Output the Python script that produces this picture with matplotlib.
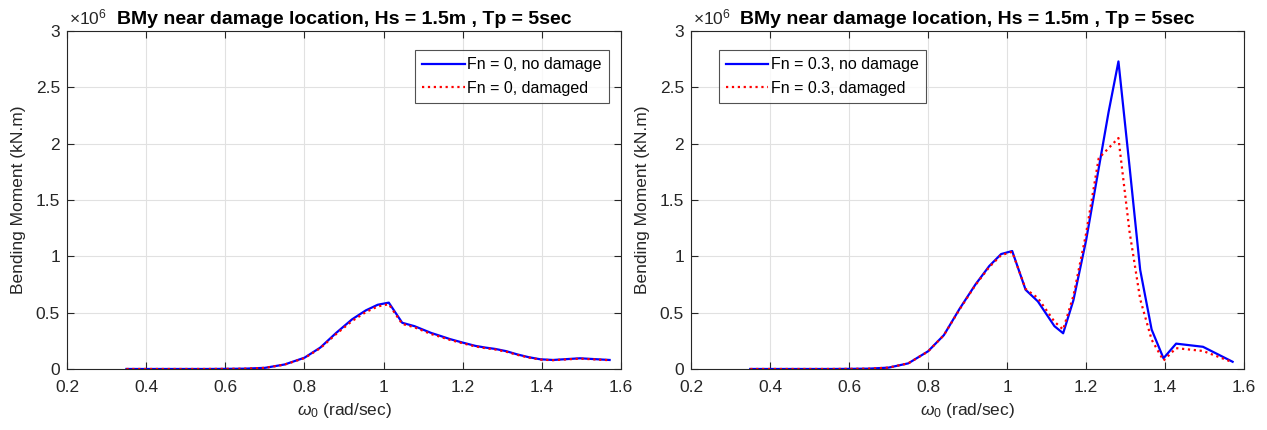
import matplotlib
matplotlib.use("Agg")
import matplotlib.pyplot as plt
from matplotlib.ticker import FuncFormatter

plt.rcParams["font.family"] = ["Liberation Sans", "DejaVu Sans"]
plt.rcParams["mathtext.fontset"] = "custom"
plt.rcParams["mathtext.rm"] = "Liberation Sans"
plt.rcParams["mathtext.it"] = "Liberation Sans:italic"

# wave frequency (rad/sec)
omega = [0.35, 0.40, 0.45, 0.50, 0.55, 0.60, 0.65, 0.70, 0.75, 0.80,
         0.84, 0.88, 0.92, 0.955, 0.985, 1.013, 1.047, 1.078, 1.12, 1.142,
         1.168, 1.20, 1.232, 1.257, 1.282, 1.31, 1.337, 1.366, 1.396, 1.428,
         1.496, 1.571]

# bending moment, units of 1e6 kN.m -- Fn = 0
bm_fn0_intact = [0, 0, 0, 0, 0, 0.001, 0.003, 0.01, 0.04, 0.10,
                 0.19, 0.32, 0.44, 0.52, 0.57, 0.589, 0.41, 0.38, 0.32, 0.295,
                 0.265, 0.234, 0.205, 0.19, 0.178, 0.158, 0.13, 0.105, 0.086, 0.08,
                 0.095, 0.08]
bm_fn0_damaged = [0, 0, 0, 0, 0, 0.001, 0.003, 0.01, 0.039, 0.097,
                  0.185, 0.31, 0.425, 0.505, 0.555, 0.575, 0.40, 0.37, 0.31, 0.287,
                  0.258, 0.228, 0.2, 0.185, 0.173, 0.153, 0.126, 0.102, 0.083, 0.078,
                  0.092, 0.078]

# Fn = 0.3
bm_fn3_intact = [0, 0, 0, 0, 0, 0.001, 0.003, 0.012, 0.05, 0.157,
                 0.30, 0.535, 0.75, 0.914, 1.02, 1.047, 0.703, 0.60, 0.38, 0.317,
                 0.61, 1.14, 1.78, 2.28, 2.73, 1.80, 0.88, 0.35, 0.095, 0.225,
                 0.197, 0.064]
bm_fn3_damaged = [0, 0, 0, 0, 0, 0.001, 0.003, 0.012, 0.05, 0.155,
                  0.30, 0.53, 0.745, 0.905, 1.01, 1.04, 0.71, 0.63, 0.42, 0.35,
                  0.65, 1.20, 1.87, 1.96, 2.05, 1.22, 0.62, 0.26, 0.075, 0.185,
                  0.16, 0.06]

title = "BMy near damage location, Hs = 1.5m , Tp = 5sec"
panels = [
    (bm_fn0_intact, bm_fn0_damaged, "Fn = 0", "upper right", (0.978, 0.944)),
    (bm_fn3_intact, bm_fn3_damaged, "Fn = 0.3", "upper left", (0.05, 0.944)),
]

INK = "#262626"
fig = plt.figure(figsize=(12.67, 4.30), dpi=100)
rects = [[0.0529, 0.1419, 0.4373, 0.786], [0.5454, 0.1419, 0.4365, 0.786]]

for rect, (intact, damaged, fn, loc, anchor) in zip(rects, panels):
    ax = fig.add_axes(rect)
    ax.plot(omega, intact, color="#0000ff", lw=1.6, label=f"{fn}, no damage")
    ax.plot(omega, damaged, color="#ff0000", lw=1.6, ls=":",
            label=f"{fn}, damaged")
    ax.set_xlim(0.2, 1.6)
    ax.set_ylim(0, 3)
    ax.set_xticks([0.2, 0.4, 0.6, 0.8, 1.0, 1.2, 1.4, 1.6])
    ax.set_yticks([0, 0.5, 1, 1.5, 2, 2.5, 3])
    fmt = FuncFormatter(lambda v, p: f"{v:g}")
    ax.xaxis.set_major_formatter(fmt)
    ax.yaxis.set_major_formatter(fmt)
    ax.grid(True, color="#e1e1e1", lw=0.8)
    ax.set_axisbelow(True)
    ax.tick_params(direction="in", top=True, right=True, length=5,
                   labelsize=12.5, colors=INK, width=0.8)
    ax.tick_params(axis="x", pad=8)
    ax.tick_params(axis="y", pad=5)
    for s in ax.spines.values():
        s.set_color(INK)
        s.set_linewidth(0.8)
    ax.set_xlabel(r"$\omega_0$ (rad/sec)", fontsize=12.5, color=INK,
                  labelpad=4)
    ax.set_ylabel("Bending Moment (kN.m)", fontsize=12.5, color=INK,
                  labelpad=7)
    ax.set_title(title, fontsize=14, fontweight="bold", pad=5)
    ax.text(0.003, 1.01, r"$\times10^{6}$", transform=ax.transAxes,
            fontsize=12.5, color=INK, ha="left", va="bottom")
    leg = ax.legend(loc=loc, bbox_to_anchor=anchor, fontsize=11.5,
                    frameon=True, fancybox=False, edgecolor=INK,
                    borderpad=0.45, labelspacing=0.55,
                    handlelength=2.65, handletextpad=0.15,
                    borderaxespad=0)
    leg.get_frame().set_linewidth(0.8)

fig.savefig("out.png", dpi=100, facecolor="white")
